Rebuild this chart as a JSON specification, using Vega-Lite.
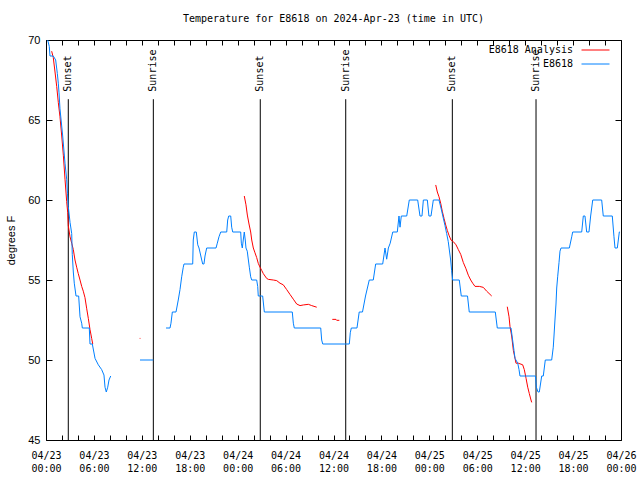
{
  "$schema": "https://vega.github.io/schema/vega-lite/v6.json",
  "width": 575,
  "height": 400,
  "autosize": "none",
  "padding": {"left": 46, "top": 40, "right": 19, "bottom": 40},
  "title": {"text": "Temperature for E8618 on 2024-Apr-23 (time in UTC)", "font": "DejaVu Sans Mono", "fontSize": 10, "fontWeight": "normal", "anchor": "middle", "frame": "group", "offset": 10, "color": "black"},
  "config": {
    "view": {"stroke": "black", "strokeWidth": 1},
    "font": "DejaVu Sans Mono",
    "axis": {"grid": false, "domain": false, "tickColor": "black", "labelColor": "black", "titleColor": "black"}
  },
  "resolve": {"axis": {"x": "independent", "y": "independent"}},
  "layer": [
    {
      "data": {"values": [
        {"hour": 2.79, "event": "Sunset"},
        {"hour": 13.44, "event": "Sunrise"},
        {"hour": 26.83, "event": "Sunset"},
        {"hour": 37.53, "event": "Sunrise"},
        {"hour": 50.88, "event": "Sunset"},
        {"hour": 61.36, "event": "Sunrise"}
      ]},
      "mark": {"type": "rule", "color": "black", "strokeWidth": 1},
      "encoding": {
        "x": {"field": "hour", "type": "quantitative", "scale": {"domain": [0, 72], "nice": false, "zero": false},
          "axis": {"orient": "bottom", "values": [0,2,4,6,8,10,12,14,16,18,20,22,24,26,28,30,32,34,36,38,40,42,44,46,48,50,52,54,56,58,60,62,64,66,68,70,72],
            "tickSize": -5, "labelPadding": 15, "labelOverlap": false, "labelFlush": false, "labelBound": false,
            "labelFont": "DejaVu Sans Mono", "labelFontSize": 10, "labelLineHeight": 13, "title": null,
            "labelExpr": "datum.value % 6 == 0 ? ['04/' + (23 + floor(datum.value / 24)), (datum.value % 24 < 10 ? '0' : '') + (datum.value % 24) + ':00'] : ''"}},
        "y": {"datum": 45, "type": "quantitative", "scale": {"domain": [45, 70], "nice": false, "zero": false},
          "axis": {"orient": "left", "values": [45, 50, 55, 60, 65, 70], "tickSize": -6, "labelPadding": 12,
            "labelFont": "Liberation Sans", "labelFontSize": 11, "title": "degrees F", "titleFont": "Liberation Sans",
            "titleFontSize": 11, "titleFontWeight": "normal", "titlePadding": 11}},
        "y2": {"datum": 66.3}
      }
    },
    {
      "data": {"values": [
        {"hour": 2.79, "event": "Sunset"},
        {"hour": 13.44, "event": "Sunrise"},
        {"hour": 26.83, "event": "Sunset"},
        {"hour": 37.53, "event": "Sunrise"},
        {"hour": 50.88, "event": "Sunset"},
        {"hour": 61.36, "event": "Sunrise"}
      ]},
      "mark": {"type": "text", "angle": 270, "align": "left", "baseline": "middle", "fontSize": 10, "font": "DejaVu Sans Mono", "color": "black"},
      "encoding": {
        "x": {"field": "hour", "type": "quantitative", "axis": null},
        "y": {"datum": 66.77, "type": "quantitative", "axis": null},
        "text": {"field": "event"}
      }
    },
    {
      "data": {"values": [
        {"h": 0.71, "t": 69.3, "s": "E8618 Analysis", "g": "r1"},
        {"h": 0.91, "t": 68.9, "s": "E8618 Analysis", "g": "r1"},
        {"h": 1.13, "t": 68.0, "s": "E8618 Analysis", "g": "r1"},
        {"h": 1.34, "t": 67.1, "s": "E8618 Analysis", "g": "r1"},
        {"h": 1.54, "t": 66.1, "s": "E8618 Analysis", "g": "r1"},
        {"h": 1.75, "t": 65.2, "s": "E8618 Analysis", "g": "r1"},
        {"h": 1.97, "t": 64.0, "s": "E8618 Analysis", "g": "r1"},
        {"h": 2.17, "t": 62.8, "s": "E8618 Analysis", "g": "r1"},
        {"h": 2.38, "t": 61.3, "s": "E8618 Analysis", "g": "r1"},
        {"h": 2.59, "t": 59.9, "s": "E8618 Analysis", "g": "r1"},
        {"h": 2.72, "t": 59.2, "s": "E8618 Analysis", "g": "r1"},
        {"h": 2.79, "t": 58.4, "s": "E8618 Analysis", "g": "r1"},
        {"h": 3.01, "t": 57.7, "s": "E8618 Analysis", "g": "r1"},
        {"h": 3.22, "t": 57.3, "s": "E8618 Analysis", "g": "r1"},
        {"h": 3.42, "t": 56.9, "s": "E8618 Analysis", "g": "r1"},
        {"h": 3.63, "t": 56.25, "s": "E8618 Analysis", "g": "r1"},
        {"h": 3.84, "t": 55.8, "s": "E8618 Analysis", "g": "r1"},
        {"h": 4.04, "t": 55.4, "s": "E8618 Analysis", "g": "r1"},
        {"h": 4.26, "t": 55.0, "s": "E8618 Analysis", "g": "r1"},
        {"h": 4.47, "t": 54.6, "s": "E8618 Analysis", "g": "r1"},
        {"h": 4.67, "t": 54.3, "s": "E8618 Analysis", "g": "r1"},
        {"h": 4.88, "t": 53.9, "s": "E8618 Analysis", "g": "r1"},
        {"h": 5.10, "t": 53.2, "s": "E8618 Analysis", "g": "r1"},
        {"h": 5.30, "t": 52.6, "s": "E8618 Analysis", "g": "r1"},
        {"h": 5.51, "t": 51.9, "s": "E8618 Analysis", "g": "r1"},
        {"h": 5.72, "t": 51.35, "s": "E8618 Analysis", "g": "r1"},
        {"h": 5.85, "t": 51.0, "s": "E8618 Analysis", "g": "r1"},
        {"h": 11.73, "t": 51.35, "s": "E8618 Analysis", "g": "r2"},
        {"h": 11.82, "t": 51.35, "s": "E8618 Analysis", "g": "r2"},
        {"h": 24.83, "t": 60.25, "s": "E8618 Analysis", "g": "r3"},
        {"h": 25.04, "t": 59.7, "s": "E8618 Analysis", "g": "r3"},
        {"h": 25.21, "t": 59.06, "s": "E8618 Analysis", "g": "r3"},
        {"h": 25.42, "t": 58.5, "s": "E8618 Analysis", "g": "r3"},
        {"h": 25.63, "t": 58.0, "s": "E8618 Analysis", "g": "r3"},
        {"h": 25.76, "t": 57.5, "s": "E8618 Analysis", "g": "r3"},
        {"h": 25.96, "t": 57.0, "s": "E8618 Analysis", "g": "r3"},
        {"h": 26.17, "t": 56.7, "s": "E8618 Analysis", "g": "r3"},
        {"h": 26.38, "t": 56.4, "s": "E8618 Analysis", "g": "r3"},
        {"h": 26.58, "t": 56.04, "s": "E8618 Analysis", "g": "r3"},
        {"h": 26.80, "t": 55.8, "s": "E8618 Analysis", "g": "r3"},
        {"h": 27.01, "t": 55.6, "s": "E8618 Analysis", "g": "r3"},
        {"h": 27.21, "t": 55.4, "s": "E8618 Analysis", "g": "r3"},
        {"h": 27.42, "t": 55.25, "s": "E8618 Analysis", "g": "r3"},
        {"h": 27.63, "t": 55.1, "s": "E8618 Analysis", "g": "r3"},
        {"h": 27.84, "t": 55.04, "s": "E8618 Analysis", "g": "r3"},
        {"h": 28.46, "t": 55.0, "s": "E8618 Analysis", "g": "r3"},
        {"h": 28.89, "t": 54.96, "s": "E8618 Analysis", "g": "r3"},
        {"h": 29.30, "t": 54.8, "s": "E8618 Analysis", "g": "r3"},
        {"h": 29.71, "t": 54.7, "s": "E8618 Analysis", "g": "r3"},
        {"h": 30.14, "t": 54.4, "s": "E8618 Analysis", "g": "r3"},
        {"h": 30.55, "t": 54.1, "s": "E8618 Analysis", "g": "r3"},
        {"h": 30.97, "t": 53.8, "s": "E8618 Analysis", "g": "r3"},
        {"h": 31.39, "t": 53.5, "s": "E8618 Analysis", "g": "r3"},
        {"h": 31.81, "t": 53.4, "s": "E8618 Analysis", "g": "r3"},
        {"h": 32.22, "t": 53.44, "s": "E8618 Analysis", "g": "r3"},
        {"h": 32.85, "t": 53.48, "s": "E8618 Analysis", "g": "r3"},
        {"h": 33.27, "t": 53.4, "s": "E8618 Analysis", "g": "r3"},
        {"h": 33.90, "t": 53.3, "s": "E8618 Analysis", "g": "r3"},
        {"h": 35.85, "t": 52.54, "s": "E8618 Analysis", "g": "r4"},
        {"h": 36.31, "t": 52.54, "s": "E8618 Analysis", "g": "r4"},
        {"h": 36.40, "t": 52.48, "s": "E8618 Analysis", "g": "r4"},
        {"h": 36.73, "t": 52.48, "s": "E8618 Analysis", "g": "r4"},
        {"h": 48.80, "t": 60.94, "s": "E8618 Analysis", "g": "r5"},
        {"h": 49.00, "t": 60.5, "s": "E8618 Analysis", "g": "r5"},
        {"h": 49.21, "t": 60.2, "s": "E8618 Analysis", "g": "r5"},
        {"h": 49.42, "t": 59.8, "s": "E8618 Analysis", "g": "r5"},
        {"h": 49.62, "t": 59.3, "s": "E8618 Analysis", "g": "r5"},
        {"h": 49.84, "t": 58.85, "s": "E8618 Analysis", "g": "r5"},
        {"h": 50.05, "t": 58.44, "s": "E8618 Analysis", "g": "r5"},
        {"h": 50.25, "t": 58.1, "s": "E8618 Analysis", "g": "r5"},
        {"h": 50.46, "t": 57.8, "s": "E8618 Analysis", "g": "r5"},
        {"h": 50.71, "t": 57.5, "s": "E8618 Analysis", "g": "r5"},
        {"h": 51.00, "t": 57.4, "s": "E8618 Analysis", "g": "r5"},
        {"h": 51.34, "t": 57.2, "s": "E8618 Analysis", "g": "r5"},
        {"h": 51.63, "t": 56.9, "s": "E8618 Analysis", "g": "r5"},
        {"h": 51.93, "t": 56.6, "s": "E8618 Analysis", "g": "r5"},
        {"h": 52.25, "t": 56.1, "s": "E8618 Analysis", "g": "r5"},
        {"h": 52.59, "t": 55.7, "s": "E8618 Analysis", "g": "r5"},
        {"h": 52.88, "t": 55.3, "s": "E8618 Analysis", "g": "r5"},
        {"h": 53.18, "t": 55.0, "s": "E8618 Analysis", "g": "r5"},
        {"h": 53.43, "t": 54.8, "s": "E8618 Analysis", "g": "r5"},
        {"h": 53.72, "t": 54.6, "s": "E8618 Analysis", "g": "r5"},
        {"h": 54.26, "t": 54.6, "s": "E8618 Analysis", "g": "r5"},
        {"h": 54.76, "t": 54.54, "s": "E8618 Analysis", "g": "r5"},
        {"h": 55.18, "t": 54.3, "s": "E8618 Analysis", "g": "r5"},
        {"h": 55.81, "t": 54.0, "s": "E8618 Analysis", "g": "r5"},
        {"h": 57.76, "t": 53.33, "s": "E8618 Analysis", "g": "r6"},
        {"h": 57.98, "t": 52.7, "s": "E8618 Analysis", "g": "r6"},
        {"h": 58.10, "t": 52.1, "s": "E8618 Analysis", "g": "r6"},
        {"h": 58.31, "t": 51.5, "s": "E8618 Analysis", "g": "r6"},
        {"h": 58.52, "t": 50.6, "s": "E8618 Analysis", "g": "r6"},
        {"h": 58.73, "t": 50.1, "s": "E8618 Analysis", "g": "r6"},
        {"h": 58.85, "t": 49.8, "s": "E8618 Analysis", "g": "r6"},
        {"h": 59.14, "t": 49.8, "s": "E8618 Analysis", "g": "r6"},
        {"h": 59.69, "t": 49.7, "s": "E8618 Analysis", "g": "r6"},
        {"h": 59.89, "t": 49.4, "s": "E8618 Analysis", "g": "r6"},
        {"h": 60.11, "t": 48.86, "s": "E8618 Analysis", "g": "r6"},
        {"h": 60.32, "t": 48.3, "s": "E8618 Analysis", "g": "r6"},
        {"h": 60.52, "t": 47.9, "s": "E8618 Analysis", "g": "r6"},
        {"h": 60.73, "t": 47.5, "s": "E8618 Analysis", "g": "r6"},
        {"h": 60.82, "t": 47.35, "s": "E8618 Analysis", "g": "r6"},
        {"h": 0.21, "t": 70, "s": "E8618", "g": "b1"},
        {"h": 0.41, "t": 69.6, "s": "E8618", "g": "b1"},
        {"h": 0.5, "t": 69, "s": "E8618", "g": "b1"},
        {"h": 0.91, "t": 69, "s": "E8618", "g": "b1"},
        {"h": 1.21, "t": 68.75, "s": "E8618", "g": "b1"},
        {"h": 1.42, "t": 67.9, "s": "E8618", "g": "b1"},
        {"h": 1.54, "t": 67.3, "s": "E8618", "g": "b1"},
        {"h": 1.63, "t": 66.7, "s": "E8618", "g": "b1"},
        {"h": 1.75, "t": 65.7, "s": "E8618", "g": "b1"},
        {"h": 2.09, "t": 64, "s": "E8618", "g": "b1"},
        {"h": 2.38, "t": 62.3, "s": "E8618", "g": "b1"},
        {"h": 2.59, "t": 61.3, "s": "E8618", "g": "b1"},
        {"h": 2.69, "t": 60.4, "s": "E8618", "g": "b1"},
        {"h": 2.79, "t": 59.6, "s": "E8618", "g": "b1"},
        {"h": 3.01, "t": 58.6, "s": "E8618", "g": "b1"},
        {"h": 3.22, "t": 57.9, "s": "E8618", "g": "b1"},
        {"h": 3.29, "t": 56.6, "s": "E8618", "g": "b1"},
        {"h": 3.42, "t": 55.5, "s": "E8618", "g": "b1"},
        {"h": 3.54, "t": 54.8, "s": "E8618", "g": "b1"},
        {"h": 3.76, "t": 54, "s": "E8618", "g": "b1"},
        {"h": 4.09, "t": 54, "s": "E8618", "g": "b1"},
        {"h": 4.26, "t": 52.7, "s": "E8618", "g": "b1"},
        {"h": 4.47, "t": 52.3, "s": "E8618", "g": "b1"},
        {"h": 4.55, "t": 52, "s": "E8618", "g": "b1"},
        {"h": 5.42, "t": 52, "s": "E8618", "g": "b1"},
        {"h": 5.51, "t": 51, "s": "E8618", "g": "b1"},
        {"h": 5.8, "t": 51, "s": "E8618", "g": "b1"},
        {"h": 6.14, "t": 50.1, "s": "E8618", "g": "b1"},
        {"h": 6.55, "t": 49.7, "s": "E8618", "g": "b1"},
        {"h": 6.97, "t": 49.4, "s": "E8618", "g": "b1"},
        {"h": 7.26, "t": 49.06, "s": "E8618", "g": "b1"},
        {"h": 7.39, "t": 48.3, "s": "E8618", "g": "b1"},
        {"h": 7.55, "t": 48, "s": "E8618", "g": "b1"},
        {"h": 7.73, "t": 48.3, "s": "E8618", "g": "b1"},
        {"h": 7.89, "t": 48.75, "s": "E8618", "g": "b1"},
        {"h": 8.1, "t": 49, "s": "E8618", "g": "b1"},
        {"h": 11.77, "t": 50, "s": "E8618", "g": "b2"},
        {"h": 13.44, "t": 50, "s": "E8618", "g": "b2"},
        {"h": 15.03, "t": 52, "s": "E8618", "g": "b3"},
        {"h": 15.53, "t": 52, "s": "E8618", "g": "b3"},
        {"h": 15.65, "t": 52.3, "s": "E8618", "g": "b3"},
        {"h": 15.82, "t": 53, "s": "E8618", "g": "b3"},
        {"h": 16.28, "t": 53, "s": "E8618", "g": "b3"},
        {"h": 16.56, "t": 53.75, "s": "E8618", "g": "b3"},
        {"h": 16.78, "t": 54.4, "s": "E8618", "g": "b3"},
        {"h": 16.99, "t": 55.2, "s": "E8618", "g": "b3"},
        {"h": 17.19, "t": 55.8, "s": "E8618", "g": "b3"},
        {"h": 17.28, "t": 56, "s": "E8618", "g": "b3"},
        {"h": 18.37, "t": 56, "s": "E8618", "g": "b3"},
        {"h": 18.44, "t": 57.5, "s": "E8618", "g": "b3"},
        {"h": 18.57, "t": 58, "s": "E8618", "g": "b3"},
        {"h": 18.82, "t": 58, "s": "E8618", "g": "b3"},
        {"h": 19.0, "t": 57.2, "s": "E8618", "g": "b3"},
        {"h": 19.16, "t": 57, "s": "E8618", "g": "b3"},
        {"h": 19.5, "t": 56.25, "s": "E8618", "g": "b3"},
        {"h": 19.62, "t": 56, "s": "E8618", "g": "b3"},
        {"h": 19.78, "t": 56, "s": "E8618", "g": "b3"},
        {"h": 19.91, "t": 56.5, "s": "E8618", "g": "b3"},
        {"h": 20.12, "t": 57, "s": "E8618", "g": "b3"},
        {"h": 21.29, "t": 57, "s": "E8618", "g": "b3"},
        {"h": 21.45, "t": 57.3, "s": "E8618", "g": "b3"},
        {"h": 21.66, "t": 57.7, "s": "E8618", "g": "b3"},
        {"h": 21.88, "t": 58, "s": "E8618", "g": "b3"},
        {"h": 22.63, "t": 58, "s": "E8618", "g": "b3"},
        {"h": 22.75, "t": 58.75, "s": "E8618", "g": "b3"},
        {"h": 22.88, "t": 59, "s": "E8618", "g": "b3"},
        {"h": 23.13, "t": 59, "s": "E8618", "g": "b3"},
        {"h": 23.25, "t": 58.3, "s": "E8618", "g": "b3"},
        {"h": 23.38, "t": 58, "s": "E8618", "g": "b3"},
        {"h": 24.38, "t": 58, "s": "E8618", "g": "b3"},
        {"h": 24.46, "t": 57.3, "s": "E8618", "g": "b3"},
        {"h": 24.58, "t": 57, "s": "E8618", "g": "b3"},
        {"h": 24.7, "t": 57.5, "s": "E8618", "g": "b3"},
        {"h": 24.83, "t": 58, "s": "E8618", "g": "b3"},
        {"h": 24.95, "t": 57.5, "s": "E8618", "g": "b3"},
        {"h": 25.04, "t": 57, "s": "E8618", "g": "b3"},
        {"h": 25.2, "t": 56.8, "s": "E8618", "g": "b3"},
        {"h": 25.46, "t": 55.8, "s": "E8618", "g": "b3"},
        {"h": 25.63, "t": 55.2, "s": "E8618", "g": "b3"},
        {"h": 25.76, "t": 55, "s": "E8618", "g": "b3"},
        {"h": 26.38, "t": 55, "s": "E8618", "g": "b3"},
        {"h": 26.51, "t": 54.6, "s": "E8618", "g": "b3"},
        {"h": 26.58, "t": 54, "s": "E8618", "g": "b3"},
        {"h": 27.13, "t": 54, "s": "E8618", "g": "b3"},
        {"h": 27.34, "t": 53, "s": "E8618", "g": "b3"},
        {"h": 30.84, "t": 53, "s": "E8618", "g": "b3"},
        {"h": 30.97, "t": 52.3, "s": "E8618", "g": "b3"},
        {"h": 31.09, "t": 52, "s": "E8618", "g": "b3"},
        {"h": 34.4, "t": 52, "s": "E8618", "g": "b3"},
        {"h": 34.52, "t": 51.25, "s": "E8618", "g": "b3"},
        {"h": 34.65, "t": 51, "s": "E8618", "g": "b3"},
        {"h": 37.98, "t": 51, "s": "E8618", "g": "b3"},
        {"h": 38.1, "t": 51.7, "s": "E8618", "g": "b3"},
        {"h": 38.23, "t": 52, "s": "E8618", "g": "b3"},
        {"h": 38.94, "t": 52, "s": "E8618", "g": "b3"},
        {"h": 39.22, "t": 53, "s": "E8618", "g": "b3"},
        {"h": 39.63, "t": 53, "s": "E8618", "g": "b3"},
        {"h": 40.01, "t": 54, "s": "E8618", "g": "b3"},
        {"h": 40.48, "t": 55, "s": "E8618", "g": "b3"},
        {"h": 40.98, "t": 55, "s": "E8618", "g": "b3"},
        {"h": 41.28, "t": 56, "s": "E8618", "g": "b3"},
        {"h": 42.16, "t": 56, "s": "E8618", "g": "b3"},
        {"h": 42.45, "t": 57, "s": "E8618", "g": "b3"},
        {"h": 42.66, "t": 56.3, "s": "E8618", "g": "b3"},
        {"h": 42.87, "t": 57, "s": "E8618", "g": "b3"},
        {"h": 43.1, "t": 57.3, "s": "E8618", "g": "b3"},
        {"h": 43.42, "t": 58, "s": "E8618", "g": "b3"},
        {"h": 43.99, "t": 58, "s": "E8618", "g": "b3"},
        {"h": 44.2, "t": 59, "s": "E8618", "g": "b3"},
        {"h": 44.33, "t": 58.3, "s": "E8618", "g": "b3"},
        {"h": 44.49, "t": 59, "s": "E8618", "g": "b3"},
        {"h": 45.17, "t": 59, "s": "E8618", "g": "b3"},
        {"h": 45.49, "t": 60, "s": "E8618", "g": "b3"},
        {"h": 46.54, "t": 60, "s": "E8618", "g": "b3"},
        {"h": 46.83, "t": 59, "s": "E8618", "g": "b3"},
        {"h": 47.08, "t": 59, "s": "E8618", "g": "b3"},
        {"h": 47.25, "t": 60, "s": "E8618", "g": "b3"},
        {"h": 47.75, "t": 60, "s": "E8618", "g": "b3"},
        {"h": 47.95, "t": 59, "s": "E8618", "g": "b3"},
        {"h": 48.21, "t": 59, "s": "E8618", "g": "b3"},
        {"h": 48.5, "t": 60, "s": "E8618", "g": "b3"},
        {"h": 49.21, "t": 60, "s": "E8618", "g": "b3"},
        {"h": 49.46, "t": 59.5, "s": "E8618", "g": "b3"},
        {"h": 49.96, "t": 58.4, "s": "E8618", "g": "b3"},
        {"h": 50.17, "t": 57.9, "s": "E8618", "g": "b3"},
        {"h": 50.37, "t": 57.4, "s": "E8618", "g": "b3"},
        {"h": 50.67, "t": 56.25, "s": "E8618", "g": "b3"},
        {"h": 50.79, "t": 55.6, "s": "E8618", "g": "b3"},
        {"h": 50.92, "t": 55, "s": "E8618", "g": "b3"},
        {"h": 51.75, "t": 55, "s": "E8618", "g": "b3"},
        {"h": 52.0, "t": 54, "s": "E8618", "g": "b3"},
        {"h": 52.78, "t": 54, "s": "E8618", "g": "b3"},
        {"h": 53.0, "t": 53, "s": "E8618", "g": "b3"},
        {"h": 56.26, "t": 53, "s": "E8618", "g": "b3"},
        {"h": 56.51, "t": 52, "s": "E8618", "g": "b3"},
        {"h": 58.23, "t": 52, "s": "E8618", "g": "b3"},
        {"h": 58.6, "t": 50.6, "s": "E8618", "g": "b3"},
        {"h": 58.73, "t": 50.1, "s": "E8618", "g": "b3"},
        {"h": 59.07, "t": 49.8, "s": "E8618", "g": "b3"},
        {"h": 59.23, "t": 49.4, "s": "E8618", "g": "b3"},
        {"h": 59.35, "t": 49, "s": "E8618", "g": "b3"},
        {"h": 61.29, "t": 49, "s": "E8618", "g": "b3"},
        {"h": 61.4, "t": 48.3, "s": "E8618", "g": "b3"},
        {"h": 61.61, "t": 48, "s": "E8618", "g": "b3"},
        {"h": 61.77, "t": 48, "s": "E8618", "g": "b3"},
        {"h": 62.07, "t": 49, "s": "E8618", "g": "b3"},
        {"h": 62.27, "t": 49, "s": "E8618", "g": "b3"},
        {"h": 62.52, "t": 50, "s": "E8618", "g": "b3"},
        {"h": 63.32, "t": 50, "s": "E8618", "g": "b3"},
        {"h": 63.52, "t": 50.8, "s": "E8618", "g": "b3"},
        {"h": 63.61, "t": 51.5, "s": "E8618", "g": "b3"},
        {"h": 63.73, "t": 52.5, "s": "E8618", "g": "b3"},
        {"h": 63.86, "t": 53.5, "s": "E8618", "g": "b3"},
        {"h": 63.95, "t": 54.5, "s": "E8618", "g": "b3"},
        {"h": 64.07, "t": 55.2, "s": "E8618", "g": "b3"},
        {"h": 64.24, "t": 56.1, "s": "E8618", "g": "b3"},
        {"h": 64.36, "t": 56.8, "s": "E8618", "g": "b3"},
        {"h": 64.49, "t": 57, "s": "E8618", "g": "b3"},
        {"h": 65.53, "t": 57, "s": "E8618", "g": "b3"},
        {"h": 65.83, "t": 57.7, "s": "E8618", "g": "b3"},
        {"h": 65.95, "t": 58, "s": "E8618", "g": "b3"},
        {"h": 67.08, "t": 58, "s": "E8618", "g": "b3"},
        {"h": 67.28, "t": 59, "s": "E8618", "g": "b3"},
        {"h": 67.49, "t": 59, "s": "E8618", "g": "b3"},
        {"h": 67.7, "t": 58, "s": "E8618", "g": "b3"},
        {"h": 67.99, "t": 58, "s": "E8618", "g": "b3"},
        {"h": 68.2, "t": 59, "s": "E8618", "g": "b3"},
        {"h": 68.46, "t": 60, "s": "E8618", "g": "b3"},
        {"h": 69.58, "t": 60, "s": "E8618", "g": "b3"},
        {"h": 69.78, "t": 59, "s": "E8618", "g": "b3"},
        {"h": 70.91, "t": 59, "s": "E8618", "g": "b3"},
        {"h": 71.12, "t": 57.7, "s": "E8618", "g": "b3"},
        {"h": 71.25, "t": 57, "s": "E8618", "g": "b3"},
        {"h": 71.54, "t": 57, "s": "E8618", "g": "b3"},
        {"h": 71.79, "t": 58, "s": "E8618", "g": "b3"},
        {"h": 71.88, "t": 58, "s": "E8618", "g": "b3"}
      ]},
      "mark": {"type": "line", "strokeWidth": 1},
      "encoding": {
        "x": {"field": "h", "type": "quantitative",
          "axis": {"orient": "top", "values": [0,2,4,6,8,10,12,14,16,18,20,22,24,26,28,30,32,34,36,38,40,42,44,46,48,50,52,54,56,58,60,62,64,66,68,70,72],
            "labels": false, "tickSize": -5, "title": null}},
        "y": {"field": "t", "type": "quantitative",
          "axis": {"orient": "right", "values": [45, 50, 55, 60, 65, 70], "labels": false, "tickSize": -6, "title": null}},
        "color": {"field": "s", "type": "nominal",
          "scale": {"domain": ["E8618 Analysis", "E8618"], "range": ["#ff0000", "#0080ff"]},
          "legend": {"orient": "none", "legendX": 544, "legendY": 4.5, "title": null, "symbolType": "M-2.8,0H2.8",
            "symbolSize": 100, "symbolStrokeWidth": 1, "labelAlign": "right", "labelOffset": -28,
            "labelFont": "DejaVu Sans Mono", "labelFontSize": 10, "labelColor": "black", "rowPadding": 3, "padding": 0,
            "encode": {"symbols": {"update": {"stroke": {"signal": "datum.value === 'E8618' ? '#0080ff' : '#ff0000'"}, "strokeOpacity": {"value": 1}, "opacity": {"value": 1}, "fill": {"value": "transparent"}}}}}},
        "detail": {"field": "g"}
      }
    }
  ]
}
